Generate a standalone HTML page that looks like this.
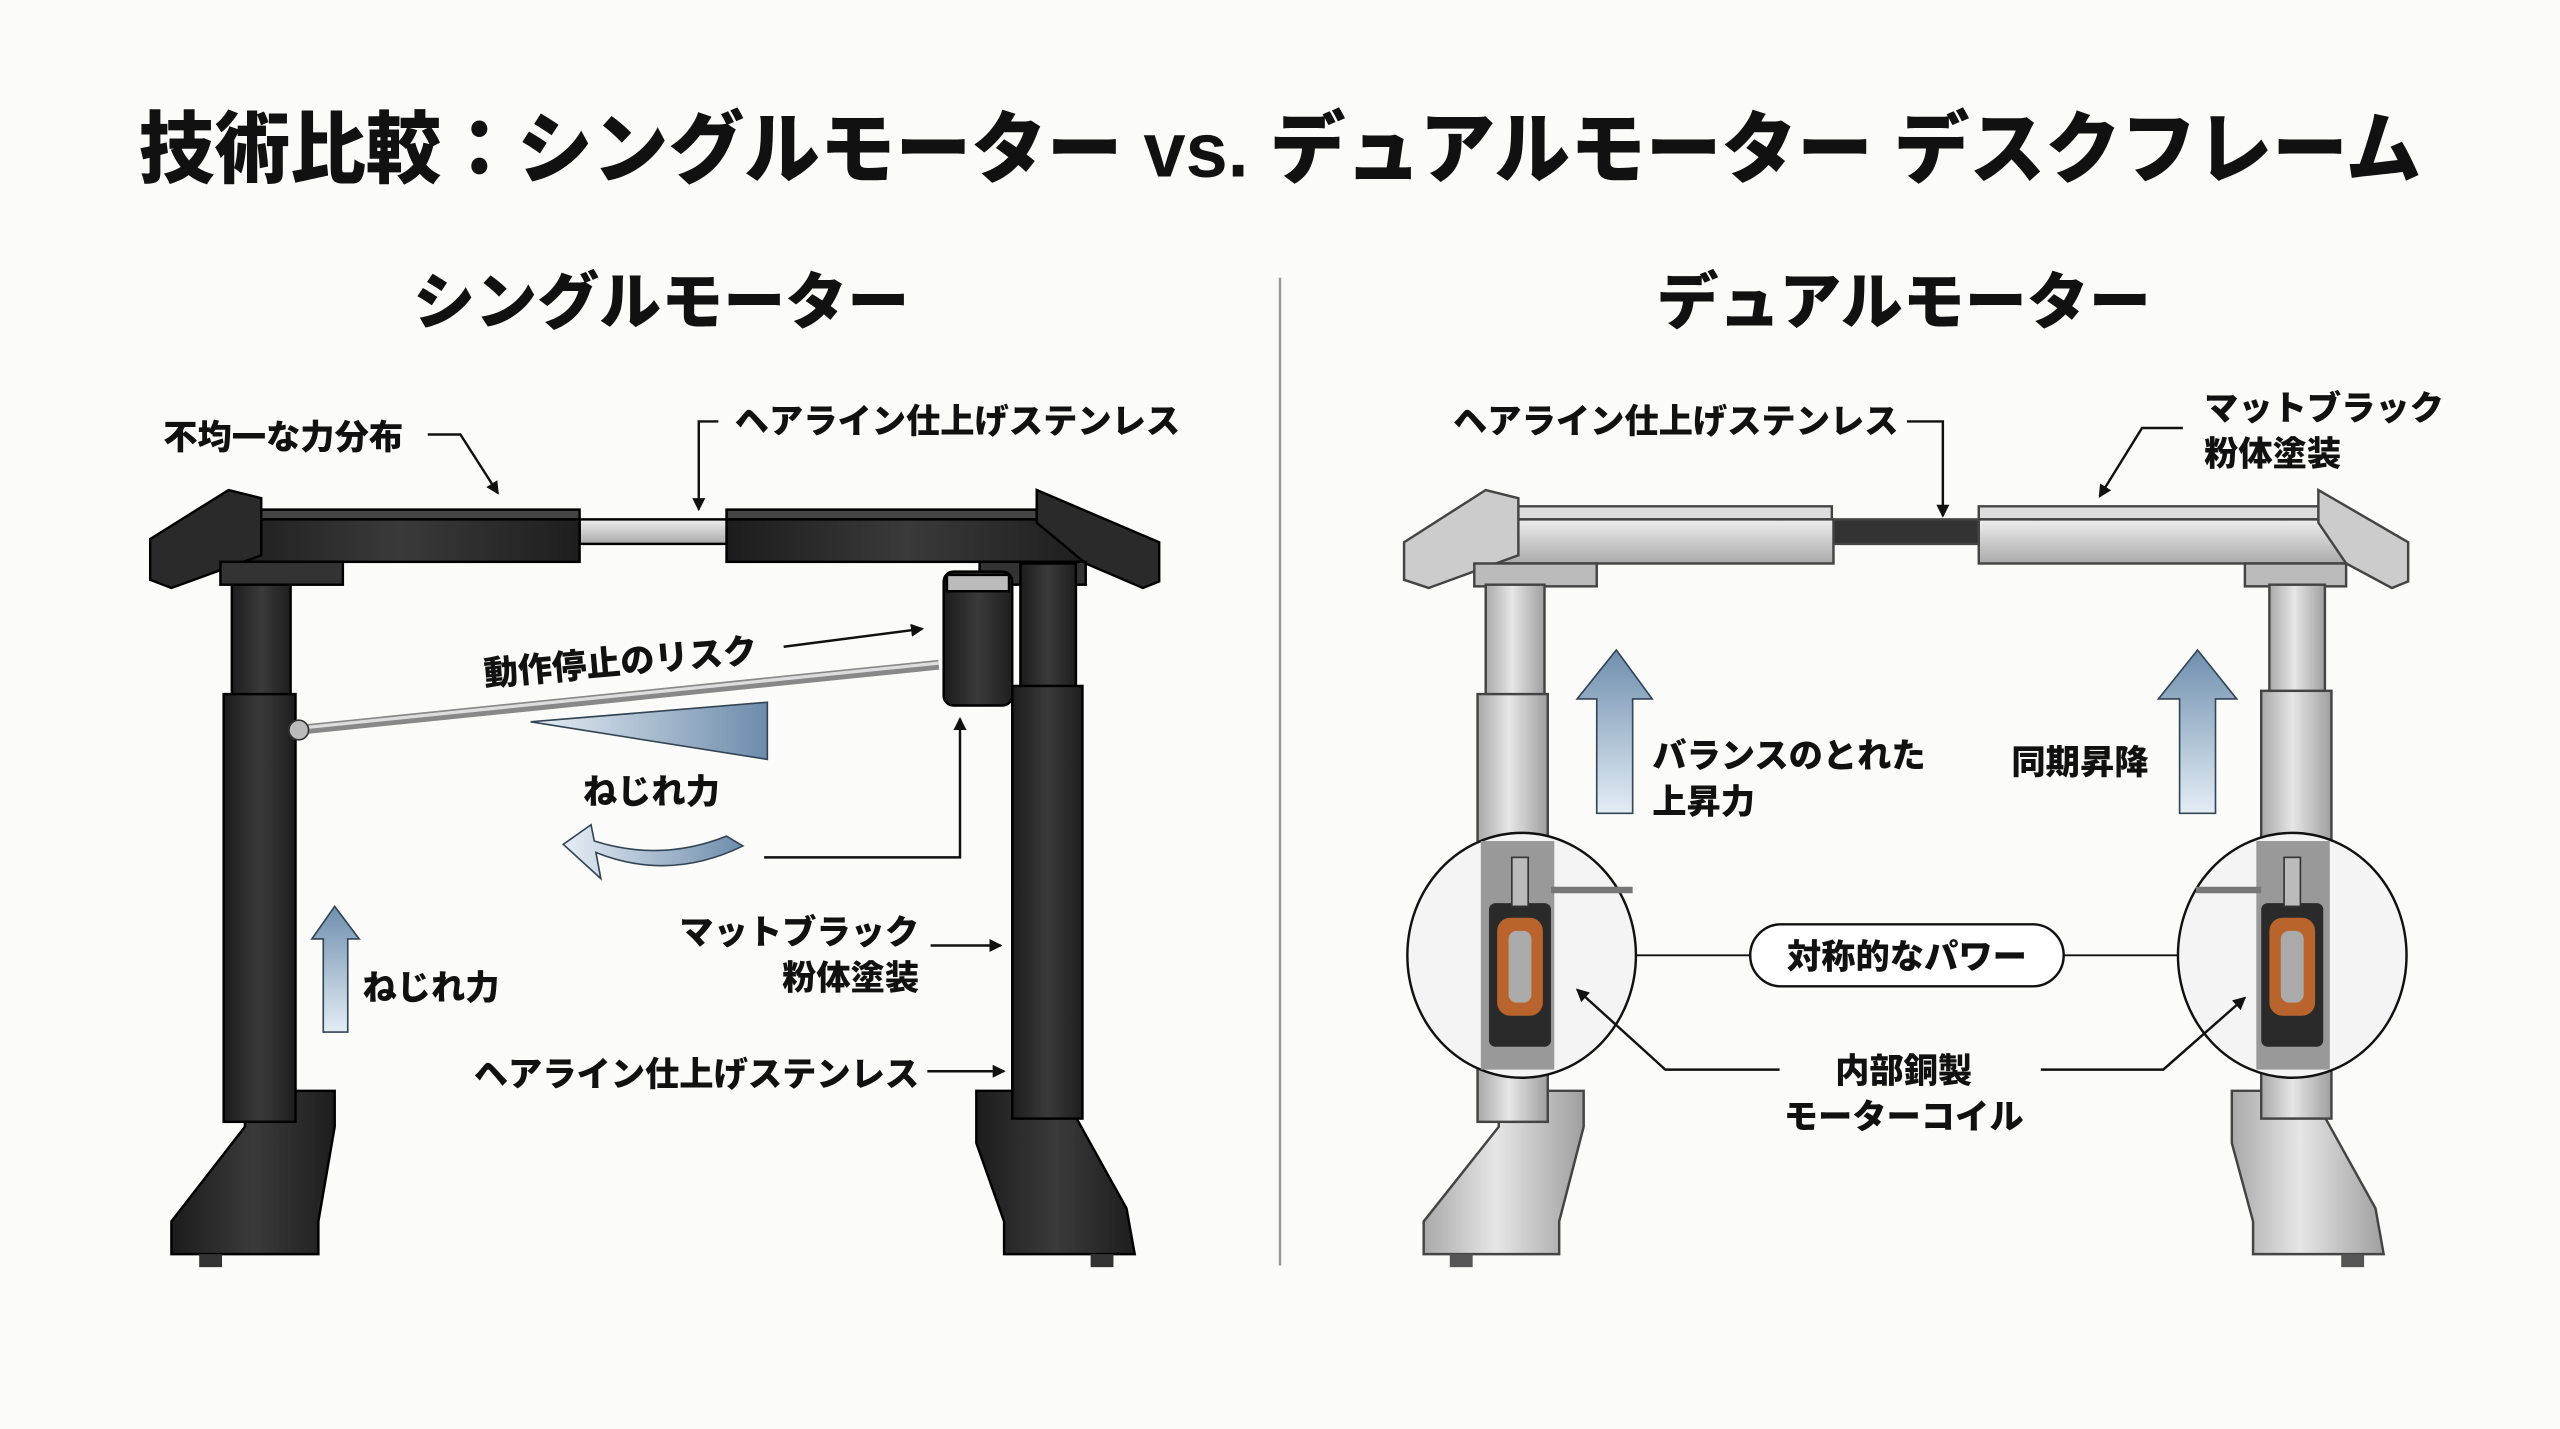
<!DOCTYPE html>
<html><head><meta charset="utf-8"><style>
html,body{margin:0;padding:0;background:#fbfbf9;}
svg{display:block;}
text{font-family:"Liberation Sans","Noto Sans CJK JP",sans-serif;font-weight:900;fill:#111;}
</style></head><body>
<svg width="2560" height="1429" viewBox="0 0 1568 875" xmlns="http://www.w3.org/2000/svg">
<defs>
<linearGradient id="blk" x1="0" x2="1"><stop offset="0" stop-color="#1c1c1c"/><stop offset=".5" stop-color="#3a3a3a"/><stop offset="1" stop-color="#1e1e1e"/></linearGradient>
<linearGradient id="sil" x1="0" x2="1"><stop offset="0" stop-color="#a9a9a9"/><stop offset=".45" stop-color="#e6e6e6"/><stop offset="1" stop-color="#9f9f9f"/></linearGradient>
<linearGradient id="silv" x1="0" y1="0" x2="0" y2="1"><stop offset="0" stop-color="#eee"/><stop offset="1" stop-color="#aaa"/></linearGradient>
<linearGradient id="blue" x1="0" y1="0" x2="0" y2="1"><stop offset="0" stop-color="#6f8fae"/><stop offset="1" stop-color="#e3edf5"/></linearGradient>
<linearGradient id="blueh" x1="0" x2="1"><stop offset="0" stop-color="#e6eef5"/><stop offset="1" stop-color="#6d8cab"/></linearGradient>
<marker id="ar" markerWidth="8" markerHeight="8" refX="7" refY="4" orient="auto" markerUnits="userSpaceOnUse"><path d="M0,0 L8,4 L0,8 z" fill="#111"/></marker>
</defs>

<text x="784" y="108" font-size="48" text-anchor="middle" textLength="1398" lengthAdjust="spacingAndGlyphs">技術比較：シングルモーター vs. デュアルモーター デスクフレーム</text>
<text x="405" y="198" font-size="38" text-anchor="middle">シングルモーター</text>
<text x="1166" y="198" font-size="38" text-anchor="middle">デュアルモーター</text>
<line x1="784" y1="170" x2="784" y2="775" stroke="#999" stroke-width="1.5"/>

<!-- LEFT FRAME (black) -->
<g stroke="#000" stroke-width="1.5">
<rect x="355" y="318" width="92" height="15" fill="url(#silv)"/>
<polygon points="135,318 355,318 355,312 150,312" fill="#444"/>
<rect x="135" y="318" width="220" height="26" fill="url(#blk)"/>
<polygon points="445,312 660,312 665,318 445,318" fill="#444"/>
<rect x="445" y="318" width="220" height="26" fill="url(#blk)"/>
<polygon points="92,330 140,300 160,305 160,340 105,360 92,355" fill="#2a2a2a"/>
<polygon points="635,300 710,332 710,356 700,360 665,345 635,320" fill="#2a2a2a"/>
<rect x="135" y="344" width="75" height="14" fill="#333"/>
<rect x="600" y="344" width="65" height="14" fill="#333"/>
<rect x="142" y="358" width="36" height="70" fill="url(#blk)"/>
<polygon points="150,668 205,668 205,690 195,748 195,768 105,768 105,748 150,690" fill="url(#blk)"/>
<rect x="137" y="425" width="44" height="262" fill="url(#blk)"/>
<rect x="625" y="345" width="34" height="78" fill="url(#blk)"/>
<polygon points="598,668 650,668 690,740 695,768 615,768 615,748 598,700" fill="url(#blk)"/>
<rect x="620" y="420" width="43" height="265" fill="url(#blk)"/>
<rect x="578" y="350" width="42" height="82" rx="6" fill="url(#blk)"/>
<rect x="580" y="352" width="38" height="10" fill="#bbb"/>
</g>
<rect x="122" y="768" width="14" height="8" fill="#333"/><rect x="668" y="768" width="14" height="8" fill="#333"/>
<line x1="182" y1="447" x2="575" y2="407" stroke="#888" stroke-width="6"/>
<line x1="182" y1="446" x2="575" y2="406" stroke="#ddd" stroke-width="2"/>
<circle cx="183" cy="447" r="6" fill="#bbb" stroke="#333"/>
<polygon points="325,442 470,430 470,465" fill="url(#blueh)" stroke="#345" stroke-width="1"/>
<path d="M455,518 Q410,540 365,522 L368,538 L345,517 L362,505 L364,515 Q405,528 445,512 Z" fill="url(#blueh)" stroke="#345" stroke-width="1"/>
<polygon points="205,555 220,575 213,575 213,632 198,632 198,575 191,575" fill="url(#blue)" stroke="#345" stroke-width="1"/>

<g font-size="21">
<text x="100" y="275">不均一な力分布</text>
<text x="450" y="265">ヘアライン仕上げステンレス</text>
<text x="297" y="420" transform="rotate(-5 297 420)">動作停止のリスク</text>
<text x="357" y="492">ねじれ力</text>
<text x="222" y="612">ねじれ力</text>
<text x="563" y="578" text-anchor="end">マットブラック</text>
<text x="563" y="606" text-anchor="end">粉体塗装</text>
<text x="563" y="665" text-anchor="end">ヘアライン仕上げステンレス</text>
</g>
<g stroke="#111" stroke-width="1.5" fill="none" marker-end="url(#ar)">
<polyline points="262,266 282,266 305,302"/>
<polyline points="440,258 428,258 428,312"/>
<line x1="480" y1="396" x2="565" y2="385"/>
<polyline points="468,525 588,525 588,440"/>
<line x1="570" y1="579" x2="613" y2="579"/>
<line x1="568" y1="656" x2="615" y2="656"/>
</g>

<!-- RIGHT FRAME (silver) -->
<g stroke="#444" stroke-width="1.5">
<rect x="1122" y="318" width="92" height="15" fill="#333"/>
<polygon points="903,318 1122,318 1122,310 918,310" fill="#ddd"/>
<rect x="903" y="318" width="220" height="27" fill="url(#silv)"/>
<polygon points="1212,310 1430,310 1437,318 1212,318" fill="#ddd"/>
<rect x="1212" y="318" width="225" height="27" fill="url(#silv)"/>
<polygon points="860,332 910,300 930,305 930,340 875,360 860,355" fill="#ccc"/>
<polygon points="1420,300 1475,332 1475,356 1465,360 1437,345 1420,320" fill="#ccc"/>
<rect x="903" y="345" width="75" height="14" fill="#bbb"/>
<rect x="1375" y="345" width="62" height="14" fill="#bbb"/>
<rect x="910" y="358" width="36" height="70" fill="url(#sil)"/>
<polygon points="918,668 970,668 970,690 955,748 955,768 872,768 872,748 918,690" fill="url(#sil)"/>
<rect x="905" y="425" width="43" height="262" fill="url(#sil)"/>
<rect x="1390" y="358" width="34" height="68" fill="url(#sil)"/>
<polygon points="1367,668 1415,668 1455,740 1460,768 1380,768 1380,748 1367,700" fill="url(#sil)"/>
<rect x="1385" y="423" width="43" height="262" fill="url(#sil)"/>
</g>
<rect x="888" y="768" width="14" height="8" fill="#555"/><rect x="1434" y="768" width="14" height="8" fill="#555"/>
<polygon points="990,398 1012,428 1000,428 1000,498 978,498 978,428 966,428" fill="url(#blue)" stroke="#345" stroke-width="1"/>
<polygon points="1346,398 1370,428 1357,428 1357,498 1335,498 1335,428 1322,428" fill="url(#blue)" stroke="#345" stroke-width="1"/>
<g>
<ellipse cx="932" cy="585" rx="70" ry="75" fill="#f4f4f4" stroke="#111" stroke-width="1.5"/>
<rect x="907" y="515" width="45" height="140" fill="#999"/>
<rect x="912" y="553" width="38" height="88" rx="4" fill="#2a2a2a"/>
<rect x="917" y="562" width="28" height="60" rx="8" fill="#b8642c"/>
<rect x="924" y="570" width="14" height="44" rx="5" fill="#aaa"/>
<rect x="926" y="525" width="10" height="30" fill="#bbb" stroke="#333"/>
<line x1="950" y1="545" x2="1000" y2="545" stroke="#777" stroke-width="4"/>
<ellipse cx="1404" cy="585" rx="70" ry="75" fill="#f4f4f4" stroke="#111" stroke-width="1.5"/>
<rect x="1382" y="515" width="45" height="140" fill="#999"/>
<rect x="1385" y="553" width="38" height="88" rx="4" fill="#2a2a2a"/>
<rect x="1390" y="562" width="28" height="60" rx="8" fill="#b8642c"/>
<rect x="1397" y="570" width="14" height="44" rx="5" fill="#aaa"/>
<rect x="1399" y="525" width="10" height="30" fill="#bbb" stroke="#333"/>
<line x1="1345" y1="545" x2="1385" y2="545" stroke="#777" stroke-width="4"/>
</g>
<rect x="1072" y="566" width="192" height="38" rx="19" fill="#fff" stroke="#111" stroke-width="1.5"/>
<line x1="1002" y1="585" x2="1072" y2="585" stroke="#111" stroke-width="1.2"/>
<line x1="1264" y1="585" x2="1334" y2="585" stroke="#111" stroke-width="1.2"/>

<g font-size="21">
<text x="890" y="265">ヘアライン仕上げステンレス</text>
<text x="1350" y="257">マットブラック</text>
<text x="1350" y="285">粉体塗装</text>
<text x="1012" y="470">バランスのとれた</text>
<text x="1012" y="498">上昇力</text>
<text x="1232" y="474">同期昇降</text>
<text x="1168" y="593" text-anchor="middle">対称的なパワー</text>
<text x="1166" y="663" text-anchor="middle">内部銅製</text>
<text x="1166" y="691" text-anchor="middle">モーターコイル</text>
</g>
<g stroke="#111" stroke-width="1.5" fill="none" marker-end="url(#ar)">
<polyline points="1168,258 1190,258 1190,316"/>
<polyline points="1337,262 1312,262 1286,304"/>
<polyline points="1090,655 1020,655 966,606"/>
<polyline points="1250,655 1325,655 1375,611"/>
</g>
</svg>
</body></html>
